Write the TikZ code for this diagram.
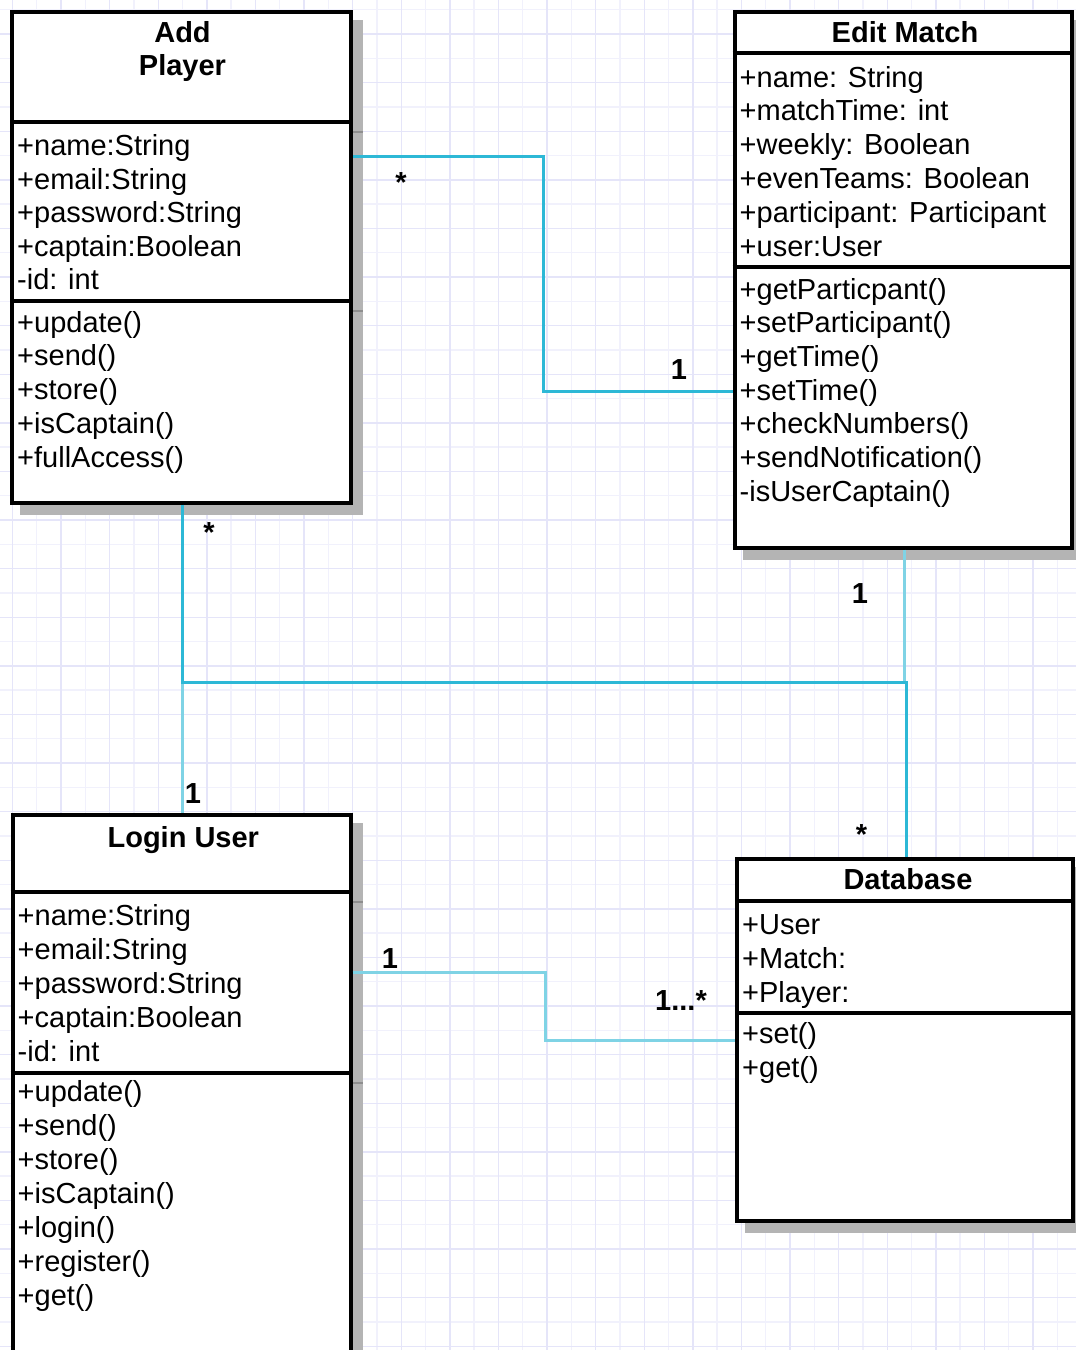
\documentclass[tikz,border=0pt]{standalone}
\usepackage{fontspec}
\setmainfont{Liberation Sans}
\usetikzlibrary{calc}
\definecolor{gridA}{HTML}{F1F1FC}
\definecolor{gridB}{HTML}{E5E5F9}
\definecolor{cdark}{HTML}{2DB8D6}
\definecolor{clight}{HTML}{7FD3E5}
\definecolor{shadowgray}{HTML}{B4B4B4}
\definecolor{sepshadow}{HTML}{8E8E8E}
\begin{document}
\begin{tikzpicture}[x=1pt,y=-1pt,
  classbox/.style={draw=black, line width=4pt, fill=white, inner sep=0pt},
  sepline/.style={draw=black, line width=4pt},
  member/.style={anchor=base west, inner sep=0pt, font=\fontsize{29}{34}\selectfont},
  classtitle/.style={anchor=base, inner sep=0pt, font=\fontsize{29}{34}\selectfont\bfseries},
  mult/.style={anchor=base, inner sep=0pt, font=\fontsize{29}{34}\selectfont\bfseries},
  darkconn/.style={draw=cdark, line width=3pt},
  lightconn/.style={draw=clight, line width=3pt},
]
\useasboundingbox (0,0) rectangle (1076,1350);
\clip (0,0) rectangle (1076,1350);
\fill[white] (0,0) rectangle (1076,1350);
% grid
\foreach \k in {1,3,...,43} {
  \draw[gridA, line width=1.4pt] ({12.4+24.3*\k},0) -- ({12.4+24.3*\k},1350);
}
\foreach \k in {0,2,...,56} {
  \draw[gridA, line width=1.4pt] (0,{9.7+24.3*\k}) -- (1076,{9.7+24.3*\k});
}
\foreach \k in {0,2,...,44} {
  \draw[gridB, line width=1.4pt] ({12.4+24.3*\k},0) -- ({12.4+24.3*\k},1350);
}
\foreach \k in {1,3,...,55} {
  \draw[gridB, line width=1.4pt] (0,{9.7+24.3*\k}) -- (1076,{9.7+24.3*\k});
}

% ---------- Add Player ----------
\fill[shadowgray] (20,19.5) rectangle (363,514.5);
\draw[sepshadow, line width=1.5pt] (353,132) -- (363,132) (353,311) -- (363,311);
\node[classbox, minimum width=339pt, minimum height=491pt] (ap) at (181.5,257) {};
\draw[sepline] (ap.west |- 0,122) -- (ap.east |- 0,122);
\draw[sepline] (ap.west |- 0,301) -- (ap.east |- 0,301);
\node[classtitle] (ap-t1) at (182.5,42) {Add};
\node[classtitle] (ap-t2) at (182.5,75.5) {Player};
\foreach \t [count=\i from 0] in {+name:String,+email:String,+password:String,+captain:Boolean,-id: int}
  \node[member] (ap-a\i) at (17,{155.5+33.6*\i}) {\t};
\foreach \t [count=\i from 0] in {+update(),+send(),+store(),+isCaptain(),+fullAccess()}
  \node[member] (ap-m\i) at (17,{332+33.9*\i}) {\t};

% ---------- Edit Match ----------
\fill[shadowgray] (742.5,19.5) rectangle (1084,559.5);
\node[classbox, minimum width=337pt, minimum height=536pt] (em) at (903,279.5) {};
\draw[sepline] (em.west |- 0,53) -- (em.east |- 0,53);
\draw[sepline] (em.west |- 0,267) -- (em.east |- 0,267);
\node[classtitle] (em-t) at (905,42) {Edit Match};
\foreach \t [count=\i from 0] in {+name: String,+matchTime: int,+weekly: Boolean,+evenTeams: Boolean,+participant: Participant,+user:User}
  \node[member] (em-a\i) at (739.5,{87+33.9*\i}) {\t};
\foreach \t [count=\i from 0] in {+getParticpant(),+setParticipant(),+getTime(),+setTime(),+checkNumbers(),+sendNotification(),-isUserCaptain()}
  \node[member] (em-m\i) at (739.5,{299+33.7*\i}) {\t};

% ---------- Login User ----------
\fill[shadowgray] (20.5,823) rectangle (362.5,1420);
\draw[sepshadow, line width=1.5pt] (352.5,902) -- (362.5,902) (352.5,1083) -- (362.5,1083);
\node[classbox, minimum width=338pt, minimum height=585pt] (lu) at (181.5,1107.5) {};
\draw[sepline] (lu.west |- 0,892) -- (lu.east |- 0,892);
\draw[sepline] (lu.west |- 0,1073) -- (lu.east |- 0,1073);
\node[classtitle] (lu-t) at (183.3,847) {Login User};
\foreach \t [count=\i from 0] in {+name:String,+email:String,+password:String,+captain:Boolean,-id: int}
  \node[member] (lu-a\i) at (17.5,{925+34*\i}) {\t};
\foreach \t [count=\i from 0] in {+update(),+send(),+store(),+isCaptain(),+login(),+register(),+get()}
  \node[member] (lu-m\i) at (17.5,{1101.5+34*\i}) {\t};

% ---------- Database ----------
\fill[shadowgray] (745,866.5) rectangle (1085,1232.5);
\node[classbox, minimum width=336pt, minimum height=362pt] (db) at (905,1039.5) {};
\draw[sepline] (db.west |- 0,901) -- (db.east |- 0,901);
\draw[sepline] (db.west |- 0,1013) -- (db.east |- 0,1013);
\node[classtitle] (db-t) at (908,889) {Database};
\foreach \t [count=\i from 0] in {+User,+Match:,+Player:}
  \node[member] (db-a\i) at (742,{934+34*\i}) {\t};
\foreach \t [count=\i from 0] in {+set(),+get()}
  \node[member] (db-m\i) at (742,{1043+34*\i}) {\t};

% ---------- connectors ----------
\coordinate (b1) at (543,156);
\coordinate (b2) at (543,391);
\coordinate (c1) at (182,682);
\coordinate (c2) at (906,682);
\coordinate (d1) at (904,682);
\coordinate (e1) at (545,972);
\coordinate (e2) at (545,1040);

\draw[lightconn] (em.south -| d1) -- (d1) -- (c1) -- (lu.north -| c1);
\draw[lightconn] (lu.east |- e1) -- (e1) -- (e2) -- (db.west |- e2);
\draw[darkconn] (ap.east |- b1) -- (b1) -- (b2) -- (em.west |- b2);
\draw[darkconn] (ap.south -| c1) -- (c1) -- (c2) -- (db.north -| c2);

% ---------- multiplicities ----------
\node[mult] (m1) at (401,192) {*};
\node[mult] (m2) at (679,379.5) {1};
\node[mult] (m3) at (209,542) {*};
\node[mult] (m4) at (860,603) {1};
\node[mult] (m5) at (193,803) {1};
\node[mult] (m6) at (861.5,844.5) {*};
\node[mult] (m7) at (390,968) {1};
\node[mult] (m8) at (681,1010.5) {1...*};
\end{tikzpicture}
\end{document}
